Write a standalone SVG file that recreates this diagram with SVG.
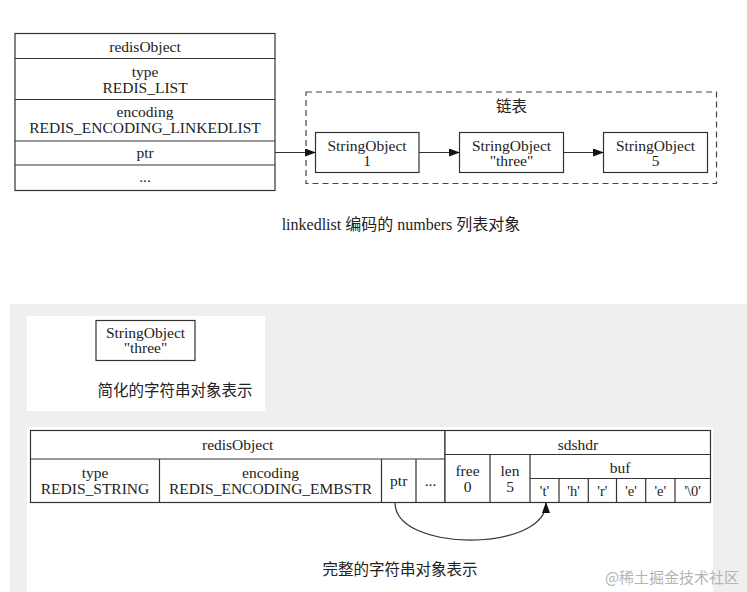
<svg xmlns="http://www.w3.org/2000/svg" width="747" height="592" viewBox="0 0 747 592">
<defs>
<style>
.t{font-family:"Liberation Serif","Noto Sans CJK SC",serif;font-size:15.5px;fill:#222;text-anchor:middle}
.c{font-family:"Liberation Serif","Noto Sans CJK SC",serif;font-size:15.5px;fill:#222;text-anchor:middle}
.s{font-size:14.5px}
.b{fill:#fff;stroke:#333;stroke-width:1.2}
.l{fill:none;stroke:#333;stroke-width:1.2}
.e{fill:none;stroke:#333;stroke-width:1.2}
</style>
<marker id="ah" markerWidth="11" markerHeight="8" refX="10" refY="4" orient="auto" markerUnits="userSpaceOnUse">
<path d="M0,0 L11,4 L0,8 Z" fill="#111"/>
</marker>
</defs>
<rect x="0" y="0" width="747" height="592" fill="#fff"/>
<rect x="10" y="304" width="737" height="288" fill="#efefef"/>
<rect x="27" y="316" width="238" height="95" fill="#fff"/>
<rect x="27" y="427" width="686" height="165" fill="#fff"/>

<g id="redisObject-list">
<rect class="b" x="15" y="33.5" width="260" height="157"/>
<path class="l" d="M15,58.5H275M15,99.5H275M15,141H275M15,165H275"/>
<text class="t" x="145" y="51.5">redisObject</text>
<text class="t" x="145" y="77">type</text>
<text class="t" x="145" y="93">REDIS_LIST</text>
<text class="t" x="145" y="117">encoding</text>
<text class="t" x="145" y="133">REDIS_ENCODING_LINKEDLIST</text>
<text class="t" x="145" y="158">ptr</text>
<text class="t" x="145" y="182">...</text>
</g>

<g id="linkedlist-cluster">
<rect x="306" y="92" width="410.5" height="91.5" fill="none" stroke="#444" stroke-width="1.2" stroke-dasharray="6,4"/>
<text class="t" x="511.5" y="111.5">链表</text>
</g>
<g id="str1">
<rect class="b" x="315.5" y="132.5" width="103.5" height="40"/>
<text class="t" x="367" y="150.5">StringObject</text>
<text class="t" x="367" y="166">1</text>
</g>
<g id="str2">
<rect class="b" x="459.5" y="132.5" width="104" height="40"/>
<text class="t" x="511.5" y="150.5">StringObject</text>
<text class="t" x="511.5" y="166">"three"</text>
</g>
<g id="str3">
<rect class="b" x="603.5" y="132.5" width="104" height="40"/>
<text class="t" x="655.5" y="150.5">StringObject</text>
<text class="t" x="655.5" y="166">5</text>
</g>

<text class="c" x="401" y="230" style="font-size:16px">linkedlist 编码的 numbers 列表对象</text>

<g id="str-simple">
<rect class="b" x="96" y="320.5" width="99" height="40"/>
<text class="t" x="145.5" y="337.5">StringObject</text>
<text class="t" x="145.5" y="353">"three"</text>
</g>
<text class="c" x="175" y="396">简化的字符串对象表示</text>

<g id="redisObject-embstr">
<rect class="b" x="30.5" y="430.5" width="414.5" height="72"/>
<path class="l" d="M30.5,459H445M159.5,459V502.5M381.5,459V502.5M416,459V502.5"/>
<text class="t" x="237.7" y="450">redisObject</text>
<text class="t" x="95" y="477.5">type</text>
<text class="t" x="95" y="493.5">REDIS_STRING</text>
<text class="t" x="270.5" y="477.5">encoding</text>
<text class="t" x="270.5" y="493.5">REDIS_ENCODING_EMBSTR</text>
<text class="t" x="398.7" y="486">ptr</text>
<text class="t" x="430.5" y="486">...</text>
</g>

<g id="sdshdr">
<rect class="b" x="445" y="430.5" width="265.5" height="72"/>
<path class="l" d="M445,454.5H710.5M490,454.5V502.5M530,454.5V502.5M530,478.5H710.5M559,478.5V502.5M588.3,478.5V502.5M616.5,478.5V502.5M645.7,478.5V502.5M675,478.5V502.5"/>
<text class="t" x="578" y="449.5">sdshdr</text>
<text class="t" x="467.5" y="475.5">free</text>
<text class="t" x="467.5" y="492">0</text>
<text class="t" x="510" y="475.5">len</text>
<text class="t" x="510" y="492">5</text>
<text class="t" x="620" y="473">buf</text>
<text class="t s" x="544.5" y="496">'t'</text>
<text class="t s" x="573.6" y="496">'h'</text>
<text class="t s" x="602.4" y="496">'r'</text>
<text class="t s" x="631" y="496">'e'</text>
<text class="t s" x="660.3" y="496">'e'</text>
<text class="t s" x="692.7" y="496">'\0'</text>
</g>

<g id="connectors">
<path class="e" d="M275,152.5H315" marker-end="url(#ah)"/>
<path class="e" d="M419,152.5H459" marker-end="url(#ah)"/>
<path class="e" d="M563.5,152.5H603" marker-end="url(#ah)"/>
<path class="e" d="M395,502.5C395,553 546,552 546,503" marker-end="url(#ah)"/>
</g>

<text class="c" x="400" y="575">完整的字符串对象表示</text>
<text x="672" y="583" style="font-family:'Noto Sans CJK SC','Liberation Serif',sans-serif;font-size:15px;fill:#b4b4b4;text-anchor:middle">@稀土掘金技术社区</text>
</svg>
